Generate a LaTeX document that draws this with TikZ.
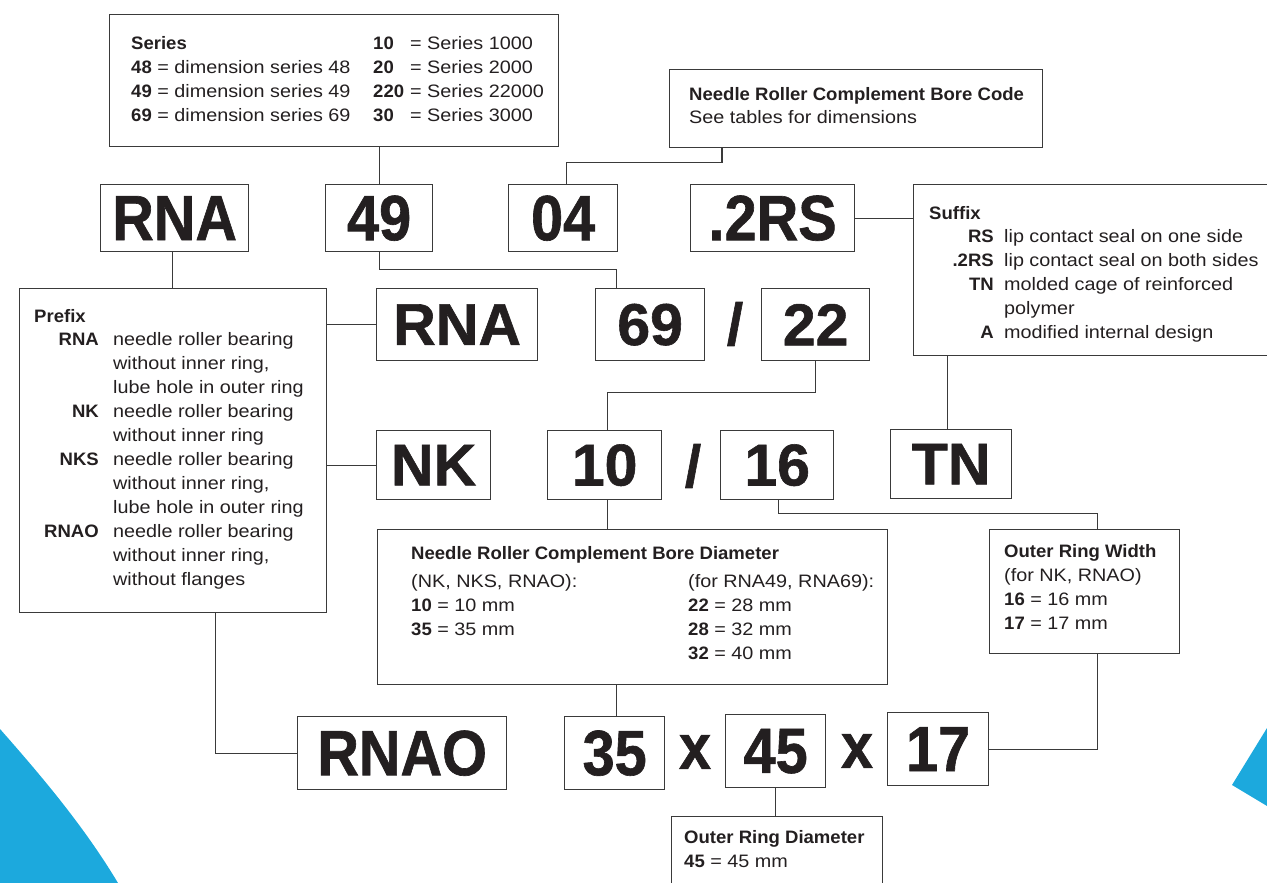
\documentclass[tikz,border=0pt]{standalone}
\usepackage{fontspec}
\setmainfont{Liberation Sans}[FakeStretch=1.1]
\newfontfamily\boldfnt{Liberation Sans Bold}[FakeStretch=1.03]
\newfontfamily\codewide{Liberation Sans Bold}[FakeBold=1]
\newfontfamily\codenarrow{Liberation Sans Bold}[FakeStretch=0.9,FakeBold=1]
\newcommand{\B}[1]{{\boldfnt #1}}
\definecolor{txtcol}{HTML}{231F20}
\definecolor{linecol}{HTML}{3A3A3A}
\definecolor{bluecol}{HTML}{1CA9DD}
\begin{document}
\begin{tikzpicture}[x=1pt,y=-1pt,
  box/.style={draw=linecol, line width=1.3pt, inner sep=0pt, anchor=north west, text=txtcol},
  codeN/.style={box, font={\codenarrow\fontsize{64pt}{64pt}\selectfont}},
  codeW/.style={box, font={\codewide\fontsize{59pt}{59pt}\selectfont}},
  sep/.style={inner sep=0pt, text=txtcol},
  conn/.style={draw=linecol, line width=1.3pt},
  txt/.style={inner sep=0pt, text=txtcol, font={\fontsize{18pt}{24pt}\selectfont}, anchor=base west},
  txtr/.style={txt, anchor=base east}]
\clip (0,0) rectangle (1267,883);
% blue decorations
\fill[bluecol] (0,729) .. controls (45,780) and (85,828) .. (118,883) -- (0,883) -- cycle;
\fill[bluecol] (1267,728) -- (1232,785) -- (1267,806) -- cycle;

% info boxes
\node[box, minimum width=449pt, minimum height=132pt] (series) at (109,14) {};
\node[box, minimum width=373pt, minimum height=78pt] (bcode) at (669,69) {};
\node[box, minimum width=367pt, minimum height=171pt] (suffix) at (913,184) {};
\node[box, minimum width=307pt, minimum height=324pt] (prefix) at (19,288) {};
\node[box, minimum width=510pt, minimum height=155pt] (bdia) at (377,529) {};
\node[box, minimum width=190pt, minimum height=124pt] (orw) at (989,529) {};
\node[box, minimum width=211pt, minimum height=90pt] (ord) at (671,816) {};

% code boxes row 1
\node[codeN, minimum width=148pt, minimum height=67pt] (rnaA) at (100,184) {RNA};
\node[codeN, minimum width=107pt, minimum height=67pt] (c49) at (325,184) {49};
\node[codeN, minimum width=109pt, minimum height=67pt] (c04) at (508,184) {04};
\node[codeN, minimum width=164pt, minimum height=67pt] (c2rs) at (690,184) {.2RS};
% row 2
\node[codeW, minimum width=161pt, minimum height=72pt] (rnaB) at (376,288) {RNA};
\node[codeW, minimum width=109pt, minimum height=72pt] (c69) at (595,288) {69};
\node[codeW, minimum width=108pt, minimum height=72pt] (c22) at (761,288) {22};
\node[sep, font={\codewide\fontsize{59pt}{59pt}\selectfont}] (sl1) at (735,324) {/};
% row 3
\node[codeW, minimum width=114pt, minimum height=69pt] (nk) at (376,430) {NK};
\node[codeW, minimum width=114pt, minimum height=69pt] (c10) at (547,430) {10};
\node[codeW, minimum width=113pt, minimum height=69pt] (c16) at (720,430) {16};
\node[codeW, minimum width=121pt, minimum height=69pt] (tn) at (890,429) {TN};
\node[sep, font={\codewide\fontsize{59pt}{59pt}\selectfont}] (sl2) at (693,466) {/};
% row 4
\node[codeN, minimum width=209pt, minimum height=73pt] (rnao) at (297,716) {RNAO};
\node[codeN, minimum width=100pt, minimum height=73pt] (c35) at (564,716) {35};
\node[codeN, minimum width=100pt, minimum height=73pt] (c45) at (725,714) {45};
\node[codeN, minimum width=101pt, minimum height=73pt] (c17) at (887,712) {17};
\node[sep, font={\codenarrow\fontsize{64pt}{64pt}\selectfont}] (x1) at (695,752) {x};
\node[sep, font={\codenarrow\fontsize{64pt}{64pt}\selectfont}] (x2) at (857,751) {x};

% texts: series
\node[txt] (serL) at (131,50) {\begin{tabular}[t]{@{}l@{}}\B{Series}\\ \B{48} = dimension series 48\\ \B{49} = dimension series 49\\ \B{69} = dimension series 69\end{tabular}};
\node[txt] (serR) at (373,50) {\begin{tabular}[t]{@{}l@{\hspace{6pt}}l@{}}\B{10} & = Series 1000\\ \B{20} & = Series 2000\\ \B{220} & = Series 22000\\ \B{30} & = Series 3000\end{tabular}};
% bore code
\node[txt] (bcT) at (689,100) {\begin{tabular}[t]{@{}l@{}}\B{Needle Roller Complement Bore Code}\\ See tables for dimensions\end{tabular}};
% suffix
\node[txt] (sufT) at (929,219) {\B{Suffix}};
\node[txtr] (sufL) at (994,242) {\begin{tabular}[t]{@{}r@{}}\B{RS}\\ \B{.2RS}\\ \B{TN}\\ \\ \B{A}\end{tabular}};
\node[txt] (sufD) at (1004,242) {\begin{tabular}[t]{@{}l@{}}lip contact seal on one side\\ lip contact seal on both sides\\ molded cage of reinforced\\ polymer\\ modified internal design\end{tabular}};
% prefix
\node[txt] (preT) at (34,322) {\B{Prefix}};
\node[txtr] (preL) at (99,345) {\begin{tabular}[t]{@{}r@{}}\B{RNA}\\ \\ \\ \B{NK}\\ \\ \B{NKS}\\ \\ \\ \B{RNAO}\end{tabular}};
\node[txt] (preD) at (113,345) {\begin{tabular}[t]{@{}l@{}}needle roller bearing\\ without inner ring,\\ lube hole in outer ring\\ needle roller bearing\\ without inner ring\\ needle roller bearing\\ without inner ring,\\ lube hole in outer ring\\ needle roller bearing\\ without inner ring,\\ without flanges\end{tabular}};
% bore diameter
\node[txt] (bdT) at (411,559) {\B{Needle Roller Complement Bore Diameter}};
\node[txt] (bdL) at (411,587) {\begin{tabular}[t]{@{}l@{}}(NK, NKS, RNAO):\\ \B{10} = 10 mm\\ \B{35} = 35 mm\end{tabular}};
\node[txt] (bdR) at (688,587) {\begin{tabular}[t]{@{}l@{}}(for RNA49, RNA69):\\ \B{22} = 28 mm\\ \B{28} = 32 mm\\ \B{32} = 40 mm\end{tabular}};
% outer ring width
\node[txt] (owT) at (1004,557) {\begin{tabular}[t]{@{}l@{}}\B{Outer Ring Width}\\ (for NK, RNAO)\\ \B{16} = 16 mm\\ \B{17} = 17 mm\end{tabular}};
% outer ring diameter
\node[txt] (odT) at (684,843) {\begin{tabular}[t]{@{}l@{}}\B{Outer Ring Diameter}\\ \B{45} = 45 mm\end{tabular}};

% connectors
\draw[conn] (c49.north) -- (c49.north |- series.south);
\draw[conn] ([xshift=53pt]bcode.south west) -- ++(0,14) -| ([xshift=3pt]c04.north);
\draw[conn] (c2rs.east) -- (c2rs.east -| suffix.west);
\draw[conn] ([xshift=-2pt]rnaA.south) -- ([xshift=-2pt]rnaA.south |- prefix.north);
\draw[conn] (c49.south) -- ++(0,17) -| ([xshift=-34pt]c69.north);
\draw[conn] (rnaB.west) -- (rnaB.west -| prefix.east);
\draw[conn] (c22.south) -- ++(0,31) -| ([xshift=3pt]c10.north);
\draw[conn] ([xshift=-3.5pt]tn.north) -- ([xshift=-3.5pt]tn.north |- suffix.south);
\draw[conn] (nk.west) -- (nk.west -| prefix.east);
\draw[conn] ([xshift=3pt]c10.south) -- ([xshift=3pt]c10.south |- bdia.north);
\draw[conn] ([xshift=1.5pt]c16.south) -- ++(0,13) -| ([xshift=13pt]orw.north);
\draw[conn] ([xshift=13pt]orw.south) |- (c17.east);
\draw[conn] ([xshift=42.5pt]prefix.south) |- (rnao.west);
\draw[conn] ([xshift=2pt]c35.north) -- ([xshift=2pt]c35.north |- bdia.south);
\draw[conn] (c45.south) -- (c45.south |- ord.north);
\end{tikzpicture}
\end{document}
